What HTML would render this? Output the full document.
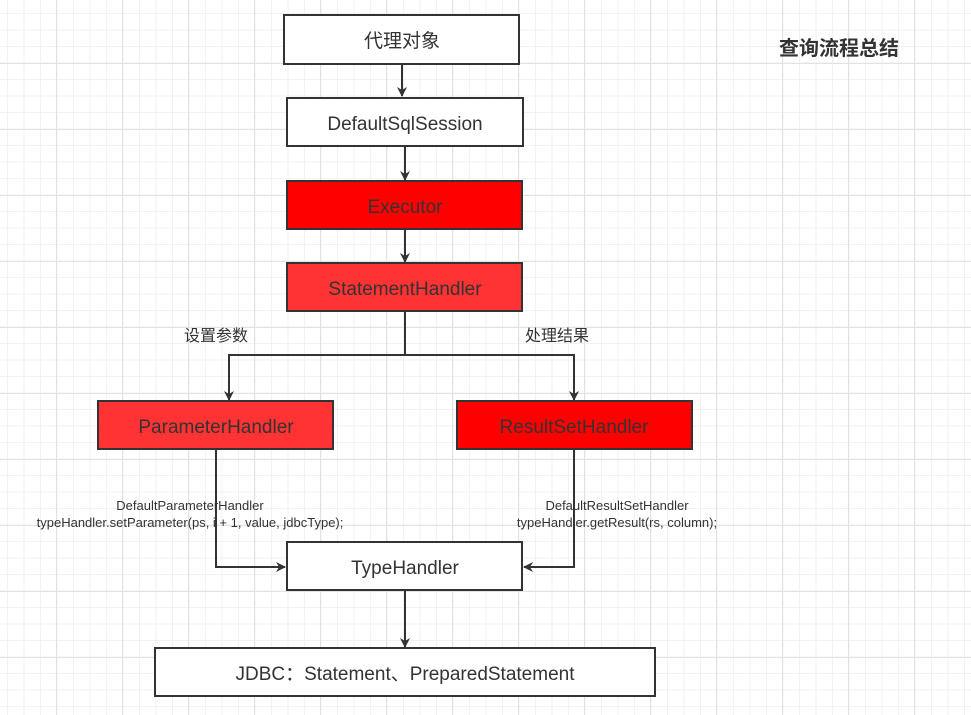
<!DOCTYPE html>
<html><head><meta charset="utf-8"><style>
html,body{margin:0;padding:0;width:971px;height:715px;overflow:hidden;background:#fff}
.g{position:absolute;left:0;top:0;width:971px;height:715px;
background-image:
linear-gradient(to right,#e2e2e2 1px,transparent 1px),
linear-gradient(to bottom,#e2e2e2 1px,transparent 1px),
linear-gradient(to right,#f2f2f2 1px,transparent 1px),
linear-gradient(to bottom,#f2f2f2 1px,transparent 1px);
background-size:66px 66px,66px 66px,16.5px 16.5px,16.5px 16.5px;
background-position:56px 0,0 63px,7px 0,0 13px;}
svg{position:absolute;left:0;top:0}
text{font-family:"Liberation Sans","Noto Sans CJK SC",sans-serif;fill:#333}
</style></head><body><div class="g"></div>
<svg width="971" height="715" viewBox="0 0 971 715">
<defs><marker id="a" markerWidth="10" markerHeight="10" refX="9" refY="5" orient="auto" markerUnits="userSpaceOnUse"><path d="M0,0 L10,5 L0,10 L3,5z" fill="#333"/></marker></defs>
<g stroke="#333" stroke-width="2" fill="none">
<line x1="402" y1="64" x2="402" y2="96" marker-end="url(#a)"/>
<line x1="405" y1="146" x2="405" y2="180" marker-end="url(#a)"/>
<line x1="405" y1="229" x2="405" y2="262" marker-end="url(#a)"/>
<polyline points="405,311 405,355 229,355 229,400" marker-end="url(#a)"/>
<polyline points="405,355 574,355 574,400" marker-end="url(#a)"/>
<polyline points="216,449 216,567 285,567" marker-end="url(#a)"/>
<polyline points="574,449 574,567 524,567" marker-end="url(#a)"/>
<line x1="405" y1="590" x2="405" y2="647" marker-end="url(#a)"/>
</g>
<g stroke="#333" stroke-width="2">
<rect x="284" y="15" width="235" height="49" fill="#fff"/>
<rect x="287" y="98" width="236" height="48" fill="#fff"/>
<rect x="287" y="181" width="235" height="48" fill="#ff0000"/>
<rect x="287" y="263" width="235" height="48" fill="#ff3333"/>
<rect x="98" y="401" width="235" height="48" fill="#ff3333"/>
<rect x="457" y="401" width="235" height="48" fill="#ff0000"/>
<rect x="287" y="542" width="235" height="48" fill="#fff"/>
<rect x="155" y="648" width="500" height="48" fill="#fff"/>
</g>
<g font-size="19" text-anchor="middle">
<text x="402" y="47">代理对象</text>
<text x="405" y="130">DefaultSqlSession</text>
<text x="405" y="213">Executor</text>
<text x="405" y="295">StatementHandler</text>
<text x="216" y="433">ParameterHandler</text>
<text x="574" y="433">ResultSetHandler</text>
<text x="405" y="574">TypeHandler</text>
<text x="405" y="680">JDBC：Statement、PreparedStatement</text>
</g>
<text x="839" y="55" font-size="20" font-weight="bold" text-anchor="middle">查询流程总结</text>
<text x="216" y="341" font-size="16" text-anchor="middle">设置参数</text>
<text x="557" y="341" font-size="16" text-anchor="middle">处理结果</text>
<g font-size="13" text-anchor="middle">
<text x="190" y="510">DefaultParameterHandler</text>
<text x="190" y="527">typeHandler.setParameter(ps, i + 1, value, jdbcType);</text>
<text x="617" y="510">DefaultResultSetHandler</text>
<text x="617" y="527">typeHandler.getResult(rs, column);</text>
</g>
</svg></body></html>
